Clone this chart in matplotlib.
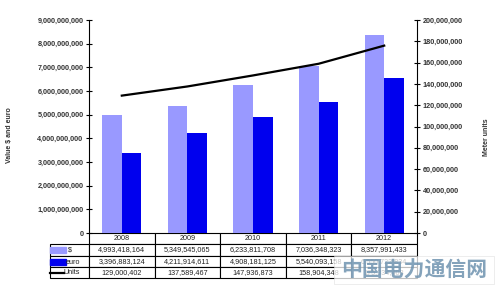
import numpy as np
import matplotlib
matplotlib.use("Agg")
import matplotlib.pyplot as plt
from matplotlib.patches import Rectangle
from matplotlib.lines import Line2D
from matplotlib.ticker import FuncFormatter

# ─────────────────────────────────────────
# Data
# ─────────────────────────────────────────
years      = ["2008", "2009", "2010", "2011", "2012"]
usd_values = [4993418164, 5349545065, 6233811708, 7036348323, 8357991433]
eur_values = [3396883124, 4211914611, 4908181125, 5540093158, 6550722834]
units      = [129000402, 137589467, 147936873, 158904348, 175934408]

usd_color  = "#9999FF"
eur_color  = "#0000EE"
W, H       = 499, 285

plt.rcParams["font.family"] = ["Liberation Sans", "DejaVu Sans"]

fig = plt.figure(figsize=(W / 100, H / 100), dpi=100)
fig.patch.set_facecolor("white")

# axes box in pixels: x 89..417, y 20..233
ax = fig.add_axes([89 / W, 1 - 233 / H, 328 / W, 213 / H])
ax2 = ax.twinx()

x = np.arange(len(years))
bw = 0.3
ax.bar(x - bw / 2, usd_values, bw, color=usd_color, zorder=2)
ax.bar(x + bw / 2, eur_values, bw, color=eur_color, zorder=2)
ax2.plot(x, units, color="black", linewidth=1.6, zorder=3)

ax.set_xlim(-0.5, len(years) - 0.5)
ax.set_ylim(0, 9e9)
ax.set_yticks(np.arange(0, 9.01e9, 1e9))
ax2.set_ylim(0, 200e6)
ax2.set_yticks(np.arange(0, 200.1e6, 20e6))

fmt = FuncFormatter(lambda v, p: f"{int(round(v)):,}")
ax.yaxis.set_major_formatter(fmt)
ax2.yaxis.set_major_formatter(fmt)
ax.set_xticks([])

for a in (ax, ax2):
    a.tick_params(axis="y", direction="inout", length=4, width=0.8,
                  labelsize=5.2, labelcolor="#333333", pad=2)
    for lbl in a.get_yticklabels():
        lbl.set_fontweight("bold")
    a.spines["top"].set_visible(False)
    a.spines["bottom"].set_visible(False)
    a.set_facecolor("none")
ax.spines["right"].set_visible(False)
ax2.spines["left"].set_visible(False)

fig.text(10 / W, 1 - 135 / H, "Value $ and euro", rotation=90, fontsize=5,
         fontweight="bold", color="#333333", ha="center", va="center")
fig.text(486 / W, 1 - 137 / H, "Meter units", rotation=90, fontsize=5,
         fontweight="bold", color="#333333", ha="center", va="center")

# ─────────────────────────────────────────
# Data table under the chart
# ─────────────────────────────────────────
cell_text = [
    [""] + [f"{v:,}" for v in usd_values],
    [""] + [f"{v:,}" for v in eur_values],
    [""] + [f"{v:,}" for v in units],
]
lab_w = 39 / 328
col_w = 65.6 / 328
tbl = ax.table(cellText=cell_text, colLabels=[""] + years,
               colWidths=[lab_w] + [col_w] * len(years),
               cellLoc="center",
               bbox=[-lab_w, -45 / 213, lab_w + col_w * len(years), 45 / 213])
tbl.auto_set_font_size(False)
tbl.set_fontsize(5.2)
for (r, c), cell in tbl.get_celld().items():
    cell.set_linewidth(0.8)
    cell.get_text().set_color("#222222")
tbl[0, 0].set_visible(False)


def fx(px):
    return px / W


def fy(py):
    return 1 - py / H


row_y = [250, 262, 273]
fig.add_artist(Rectangle((fx(50), fy(row_y[0] + 3)), 16 / W, 6 / H,
                         transform=fig.transFigure, color=usd_color))
fig.add_artist(Rectangle((fx(50), fy(row_y[1] + 3)), 16 / W, 6 / H,
                         transform=fig.transFigure, color=eur_color))
fig.add_artist(Line2D([fx(50), fx(64)], [fy(row_y[2]), fy(row_y[2])],
                      transform=fig.transFigure, color="black", linewidth=1.6))
for txt, px, py in [("$", 68, row_y[0]), ("euro", 66, row_y[1]), ("Units", 64, row_y[2])]:
    fig.text(fx(px), fy(py), txt, fontsize=5.2, color="#222222",
             ha="left", va="center")

# watermark in the corner
fig.add_artist(Rectangle((fx(334), fy(284)), 160 / W, 28 / H,
                         transform=fig.transFigure, facecolor="white",
                         edgecolor="#dddddd", linewidth=0.5, alpha=0.75))
fig.text(fx(414), fy(270), "中国电力通信网", fontsize=15, fontweight="bold",
         color="#6f93b0", alpha=0.85, ha="center", va="center",
         family=["Noto Sans CJK SC", "DejaVu Sans"])

fig.savefig("out.png", dpi=100)
